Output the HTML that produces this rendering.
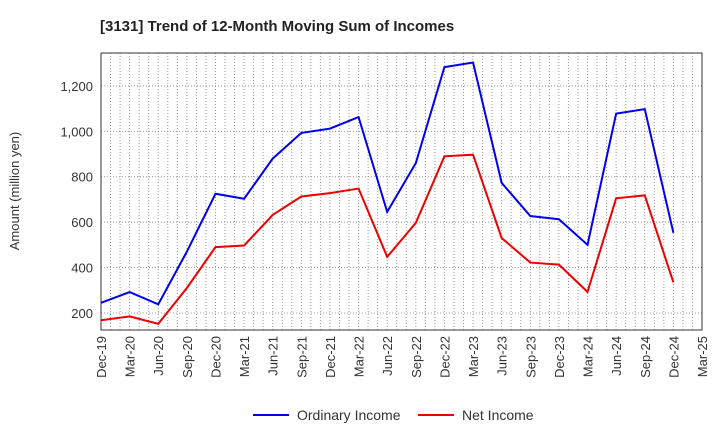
<!DOCTYPE html>
<html><head><meta charset="utf-8"><style>body{margin:0;background:#fff}svg text{font-family:"Liberation Sans",sans-serif}</style></head>
<body>
<svg id="c" width="720" height="440"></svg>
<script>
const categories=["Dec-19","Mar-20","Jun-20","Sep-20","Dec-20","Mar-21","Jun-21","Sep-21","Dec-21","Mar-22","Jun-22","Sep-22","Dec-22","Mar-23","Jun-23","Sep-23","Dec-23","Mar-24","Jun-24","Sep-24","Dec-24","Mar-25"];
const ordinaryIncome=[245,292,238,470,725,703,880,993,1012,1063,645,860,1283,1303,773,627,613,500,1078,1098,553];
const netIncome=[168,185,152,310,490,497,632,713,728,748,447,597,890,897,530,422,413,293,705,718,335];
const yTicks=[200,400,600,800,1000,1200];
const ns="http://www.w3.org/2000/svg",svg=document.getElementById('c');
const L=101,R=702,T=53,B=330,ymin=125,ymax=1345;
const x=i=>L+(R-L)*i/(categories.length-1);
const y=v=>B-(v-ymin)/(ymax-ymin)*(B-T);
function mk(t,a,p){const e=document.createElementNS(ns,t);for(const k in a)e.setAttribute(k,a[k]);(p||svg).appendChild(e);return e;}
const g=mk('g',{});
for(let m=1;m<(categories.length-1)*3;m++){const xx=L+(R-L)*m/((categories.length-1)*3);mk('line',{x1:xx,x2:xx,y1:T,y2:B,stroke:'#999','stroke-dasharray':'1,2','stroke-width':1},g);}
yTicks.forEach(v=>{mk('line',{x1:L,x2:R,y1:y(v),y2:y(v),stroke:'#999','stroke-dasharray':'1,2'},g);
const t=mk('text',{x:L-8,y:y(v)+5,'text-anchor':'end','font-size':13,fill:'#333'});t.textContent=v.toLocaleString('en-US');
});
categories.forEach((c,i)=>{const t=mk('text',{transform:`translate(${x(i)+5},${B+6}) rotate(-90)`,'text-anchor':'end','font-size':13,fill:'#333'});t.textContent=c;
});
const fr=mk('rect',{x:L,y:T,width:R-L,height:B-T,fill:'none',stroke:'#333'});
function line(d,col,name){const p=mk('polyline',{points:d.map((v,i)=>x(i)+','+y(v)).join(' '),fill:'none',stroke:col,'stroke-width':2});}
line(ordinaryIncome,'#0000ee','ordinary-income-line');line(netIncome,'#ee0000','net-income-line');
let t=mk('text',{x:100,y:31,'font-size':15,'font-weight':'bold',fill:'#222'});t.textContent='[3131]  Trend of 12-Month Moving Sum of Incomes';
t=mk('text',{transform:'translate(19,191) rotate(-90)','text-anchor':'middle','font-size':13,fill:'#333'});t.textContent='Amount (million yen)';
[[253,'#0000ee','Ordinary Income','legend-ordinary-income'],[418,'#ee0000','Net Income','legend-net-income']].forEach(([lx,c,s,n])=>{const lg=mk('g',{});
mk('line',{x1:lx,x2:lx+36,y1:415,y2:415,stroke:c,'stroke-width':2},lg);const tt=mk('text',{x:lx+44,y:420,'font-size':14,fill:'#333'},lg);tt.textContent=s;});
</script>
</body></html>
